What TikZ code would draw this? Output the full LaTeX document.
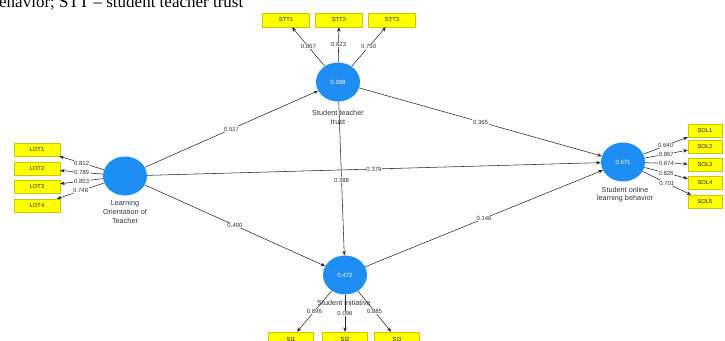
\documentclass[tikz,border=0pt]{standalone}
\usepackage{fontspec}
\setmainfont{Liberation Sans}
\newfontfamily\capfont{Liberation Serif}
\usetikzlibrary{arrows.meta,shapes.geometric}
\definecolor{cBlue}{HTML}{1E8EF4}
\definecolor{cYel}{HTML}{FFFF00}
\definecolor{cYelD}{HTML}{C8C800}
\begin{document}
\begin{tikzpicture}[x=1pt,y=-1pt,
 lv/.style={ellipse,fill=cBlue,minimum width=44pt,minimum height=39pt,inner sep=0pt,text=white,font=\fontsize{6}{7}\selectfont},
 ind/.style={rectangle,fill=cYel,draw=cYelD,line width=0.4pt,minimum width=46pt,minimum height=13pt,inner sep=0pt,font=\fontsize{5.8}{7}\selectfont,text=black!85},
 nm/.style={align=center,font=\fontsize{7.3}{8.6}\selectfont,text=black!80,inner sep=0pt},
 cf/.style={fill=white,inner sep=0.6pt,font=\fontsize{6}{7}\selectfont,text=black!80},
 pth/.style={draw=black!85,line width=0.55pt,-{Stealth[length=4.5pt,width=3.6pt]}},
]
\useasboundingbox (0,0) rectangle (725,340);
\clip (0,0) rectangle (725,340);

\node[anchor=base west,inner sep=0pt,font=\capfont\fontsize{17}{20}\selectfont] (cap) at (-1,8) {ehavior; STT – student teacher trust};

% latent variables
\node[lv] (lot) at (125,176) {};
\node[lv] (stt) at (338,82) {0.268};
\node[lv] (sol) at (623,162) {0.571};
\node[lv] (si) at (345,275) {0.472};

\node[nm,anchor=north] (lotn) at (125,200.5) {Learning\\Orientation of\\Teacher};
\node[nm] (sttn) at (338,117.5) {Student teacher\\trust};
\node[nm] (soln) at (625,194.5) {Student online\\learning behavior};
\node[nm] (sin) at (344,303) {Student initiative};

% indicators
\node[ind] (lot1) at (37,149.5) {LOT1};
\node[ind] (lot2) at (37,168.5) {LOT2};
\node[ind] (lot3) at (37,186.5) {LOT3};
\node[ind] (lot4) at (37,205.5) {LOT4};

\node[ind,minimum width=47pt,minimum height=14pt] (stt1) at (286,20) {STT1};
\node[ind,minimum width=47pt,minimum height=14pt] (stt2) at (339,20) {STT2};
\node[ind,minimum width=47pt,minimum height=14pt] (stt3) at (392,20) {STT3};

\node[ind,minimum width=34pt] (sol1) at (705,130.5) {SOL1};
\node[ind,minimum width=34pt] (sol2) at (705,147) {SOL2};
\node[ind,minimum width=34pt] (sol3) at (705,164.5) {SOL3};
\node[ind,minimum width=34pt] (sol4) at (705,183) {SOL4};
\node[ind,minimum width=34pt] (sol5) at (705,201.5) {SOL5};

\node[ind,minimum width=45pt,minimum height=14pt] (si1) at (291,339) {SI1};
\node[ind,minimum width=45pt,minimum height=14pt] (si2) at (345,339) {SI2};
\node[ind,minimum width=45pt,minimum height=14pt] (si3) at (397,339) {SI3};

% outer loadings
\draw[pth] (lot) -- node[cf]{0.812} (lot1);
\draw[pth] (lot) -- node[cf]{0.789} (lot2);
\draw[pth] (lot) -- node[cf]{0.853} (lot3);
\draw[pth] (lot) -- node[cf]{0.748} (lot4);

\draw[pth] (stt) -- node[cf]{0.867} (stt1);
\draw[pth] (stt) -- node[cf]{0.823} (stt2);
\draw[pth] (stt) -- node[cf]{0.750} (stt3);

\draw[pth] (sol) -- node[cf]{0.640} (sol1);
\draw[pth] (sol) -- node[cf]{0.867} (sol2);
\draw[pth] (sol) -- node[cf]{0.874} (sol3);
\draw[pth] (sol) -- node[cf]{0.826} (sol4);
\draw[pth] (sol) -- node[cf]{0.701} (sol5);

\draw[pth] (si) -- node[cf]{0.896} (si1);
\draw[pth] (si) -- node[cf]{0.096} (si2);
\draw[pth] (si) -- node[cf]{0.885} (si3);

% structural paths
\draw[pth] (lot) -- node[cf]{0.517} (stt);
\draw[pth] (lot) -- node[cf]{0.379} (sol);
\draw[pth] (lot) -- node[cf]{0.400} (si);
\draw[pth] (stt) -- node[cf]{0.365} (sol);
\draw[pth] (stt) -- node[cf,pos=0.51]{0.388} (si);
\draw[pth] (si) -- node[cf]{0.146} (sol);
\end{tikzpicture}
\end{document}
